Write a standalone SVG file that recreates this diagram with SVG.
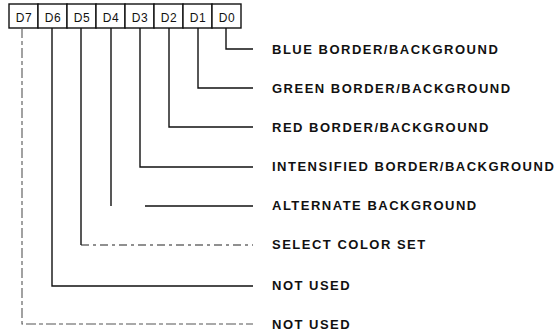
<svg xmlns="http://www.w3.org/2000/svg" width="557" height="332" viewBox="0 0 557 332">
<style>
.box{fill:#fff;stroke:#111;stroke-width:1.4}
.bt{font-family:"Liberation Sans",Arial,sans-serif;font-size:12px;letter-spacing:0.6px;fill:#111;text-anchor:middle}
.lb{font-family:"Liberation Sans",Arial,sans-serif;font-size:13px;font-weight:bold;letter-spacing:1.5px;fill:#111}
.c{fill:none;stroke:#111;stroke-width:1.4}
.f{fill:none;stroke:#555;stroke-width:1.1;stroke-dasharray:10 3 4 3}
.d{fill:none;stroke:#222;stroke-width:1.2;stroke-dasharray:8 4 3 4}
</style>
<rect width="557" height="332" fill="#fff"/>
<g id="register">
<g id="D7"><rect class="box" x="9" y="4" width="29" height="24"/><text class="bt" x="24" y="22">D7</text></g>
<g id="D6"><rect class="box" x="38" y="4" width="29" height="24"/><text class="bt" x="53" y="22">D6</text></g>
<g id="D5"><rect class="box" x="67" y="4" width="29" height="24"/><text class="bt" x="82" y="22">D5</text></g>
<g id="D4"><rect class="box" x="96" y="4" width="29" height="24"/><text class="bt" x="111" y="22">D4</text></g>
<g id="D3"><rect class="box" x="125" y="4" width="29" height="24"/><text class="bt" x="140" y="22">D3</text></g>
<g id="D2"><rect class="box" x="154" y="4" width="29" height="24"/><text class="bt" x="169" y="22">D2</text></g>
<g id="D1"><rect class="box" x="183" y="4" width="29" height="24"/><text class="bt" x="198" y="22">D1</text></g>
<g id="D0"><rect class="box" x="212" y="4" width="29" height="24"/><text class="bt" x="227" y="22">D0</text></g>
</g>
<g id="connectors">
<path class="c" d="M226 28 V49 H253"/>
<path class="c" d="M198 28 V88 H253"/>
<path class="c" d="M169 28 V127 H253"/>
<path class="c" d="M140 28 V167 H253"/>
<path class="c" d="M111 28 V206"/>
<path class="c" d="M145 206 H253"/>
<path class="c" d="M81 28 V245"/>
<path class="d" d="M81 245 H253"/>
<path class="c" d="M52 28 V286 H253"/>
<path class="f" d="M22 28 V324 H253"/>
</g>
<g id="labels">
<text class="lb" x="272" y="54">BLUE BORDER/BACKGROUND</text>
<text class="lb" x="272" y="93">GREEN BORDER/BACKGROUND</text>
<text class="lb" x="272" y="132">RED BORDER/BACKGROUND</text>
<text class="lb" x="272" y="171">INTENSIFIED BORDER/BACKGROUND</text>
<text class="lb" x="272" y="210">ALTERNATE BACKGROUND</text>
<text class="lb" x="272" y="249">SELECT COLOR SET</text>
<text class="lb" x="272" y="290">NOT USED</text>
<text class="lb" x="272" y="329">NOT USED</text>
</g>
</svg>
